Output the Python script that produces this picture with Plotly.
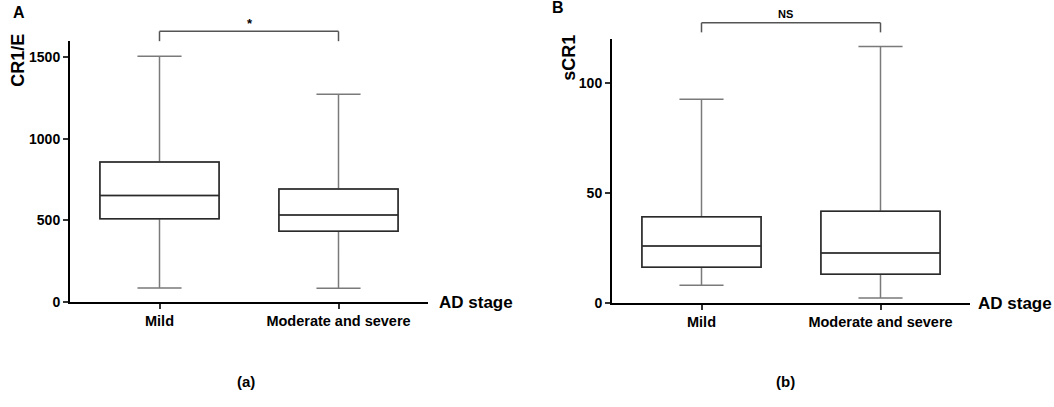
import plotly.graph_objects as go

# ---- data ----
CATS = ["Mild", "Moderate and severe"]

# Panel A: CR1/E
A_LOW = [86, 84]
A_Q1 = [511, 433]
A_MED = [653, 533]
A_Q3 = [859, 693]
A_HIGH = [1508, 1274]
A_TICKS = [0, 500, 1000, 1500]

# Panel B: sCR1
B_LOW = [8.0, 2.2]
B_Q1 = [16.2, 13.0]
B_MED = [25.9, 22.7]
B_Q3 = [39.2, 41.7]
B_HIGH = [92.7, 116.7]
B_TICKS = [0, 50, 100]

W, H = 1054, 407
FONT = "Liberation Sans, Arial, sans-serif"
WHISKER = "#7a7a7a"
BOXLINE = "#2a2a2a"

fig = go.Figure()


def add_panel(xa, ya, low, q1, med, q3, high):
    # whiskers (grey)
    fig.add_trace(go.Box(
        x=CATS, q1=q1, median=med, q3=q3, lowerfence=low, upperfence=high,
        xaxis=xa, yaxis=ya, width=0.666, whiskerwidth=0.37,
        line=dict(color=WHISKER, width=1.5), fillcolor="white",
        boxpoints=False, showlegend=False, hoverinfo="skip"))
    # box outline (dark) on top
    fig.add_trace(go.Box(
        x=CATS, q1=q1, median=med, q3=q3, lowerfence=q1, upperfence=q3,
        xaxis=xa, yaxis=ya, width=0.666, whiskerwidth=0,
        line=dict(color=BOXLINE, width=1.5), fillcolor="rgba(0,0,0,0)",
        boxpoints=False, showlegend=False, hoverinfo="skip"))


add_panel("x", "y", A_LOW, A_Q1, A_MED, A_Q3, A_HIGH)
add_panel("x2", "y2", B_LOW, B_Q1, B_MED, B_Q3, B_HIGH)

tickfont = dict(family=FONT, size=14, color="black", weight="bold")
xtickfont = dict(family=FONT, size=14.5, color="black", weight="bold")

common_x = dict(type="category", range=[-0.5, 1.5], showline=True, linecolor="black",
                linewidth=2, ticks="outside", ticklen=5, tickwidth=1.5, tickcolor="#333",
                tickfont=xtickfont, showgrid=False, zeroline=False, fixedrange=True)
common_y = dict(showline=True, linecolor="black", linewidth=2, ticks="outside",
                ticklen=5, tickwidth=1.5, tickcolor="#333", tickfont=tickfont,
                showgrid=False, zeroline=False, fixedrange=True)

fig.update_layout(
    width=W, height=H, autosize=False,
    margin=dict(l=0, r=0, t=0, b=0),
    paper_bgcolor="white", plot_bgcolor="white",
    boxmode="overlay",
    xaxis=dict(domain=[70 / W, 428 / W], anchor="y", **common_x),
    yaxis=dict(domain=[(H - 308) / H, (H - 42) / H], range=[0, 1600], anchor="x",
               tickvals=A_TICKS, **common_y),
    xaxis2=dict(domain=[612 / W, 970 / W], anchor="y2", **common_x),
    yaxis2=dict(domain=[(H - 309) / H, (H - 40) / H], range=[0, 120], anchor="x2",
                tickvals=B_TICKS, **common_y),
)


def px_x(v):
    return v / W


def px_y(v):
    return (H - v) / H


annos = [
    dict(text="A", x=px_x(18.5), y=px_y(13), size=16),
    dict(text="B", x=px_x(557.5), y=px_y(8), size=16),
    dict(text="CR1/E", x=px_x(18), y=px_y(62), size=18, angle=-90),
    dict(text="sCR1", x=px_x(569), y=px_y(59), size=18, angle=-90),
    dict(text="AD stage", x=px_x(476), y=px_y(309), size=17),
    dict(text="AD stage", x=px_x(1015), y=px_y(310), size=17),
    dict(text="(a)", x=px_x(246), y=px_y(389), size=15),
    dict(text="(b)", x=px_x(785), y=px_y(389), size=15),
    dict(text="*", x=px_x(250), y=px_y(24), size=13),
    dict(text="NS", x=px_x(785), y=px_y(14), size=11),
]
for a in annos:
    fig.add_annotation(text=a["text"], x=a["x"], y=a["y"], xref="paper", yref="paper",
                       xanchor="center", yanchor="middle", showarrow=False,
                       textangle=a.get("angle", 0),
                       font=dict(family=FONT, size=a["size"], color="black", weight="bold"))

# significance brackets
BR = "#555555"
for xref, ytop, ybot in [("x", px_y(32), px_y(42)), ("x2", px_y(23.3), px_y(33))]:
    fig.add_shape(type="line", xref=xref, yref="paper", x0=0, x1=1, y0=ytop, y1=ytop,
                  line=dict(color=BR, width=1.5))
    fig.add_shape(type="line", xref=xref, yref="paper", x0=0, x1=0, y0=ytop, y1=ybot,
                  line=dict(color=BR, width=1.5))
    fig.add_shape(type="line", xref=xref, yref="paper", x0=1, x1=1, y0=ytop, y1=ybot,
                  line=dict(color=BR, width=1.5))

fig.write_html("out.html", config={"displayModeBar": False, "responsive": False},
               post_script="document.body.style.margin='0';document.body.style.overflow='hidden';")
